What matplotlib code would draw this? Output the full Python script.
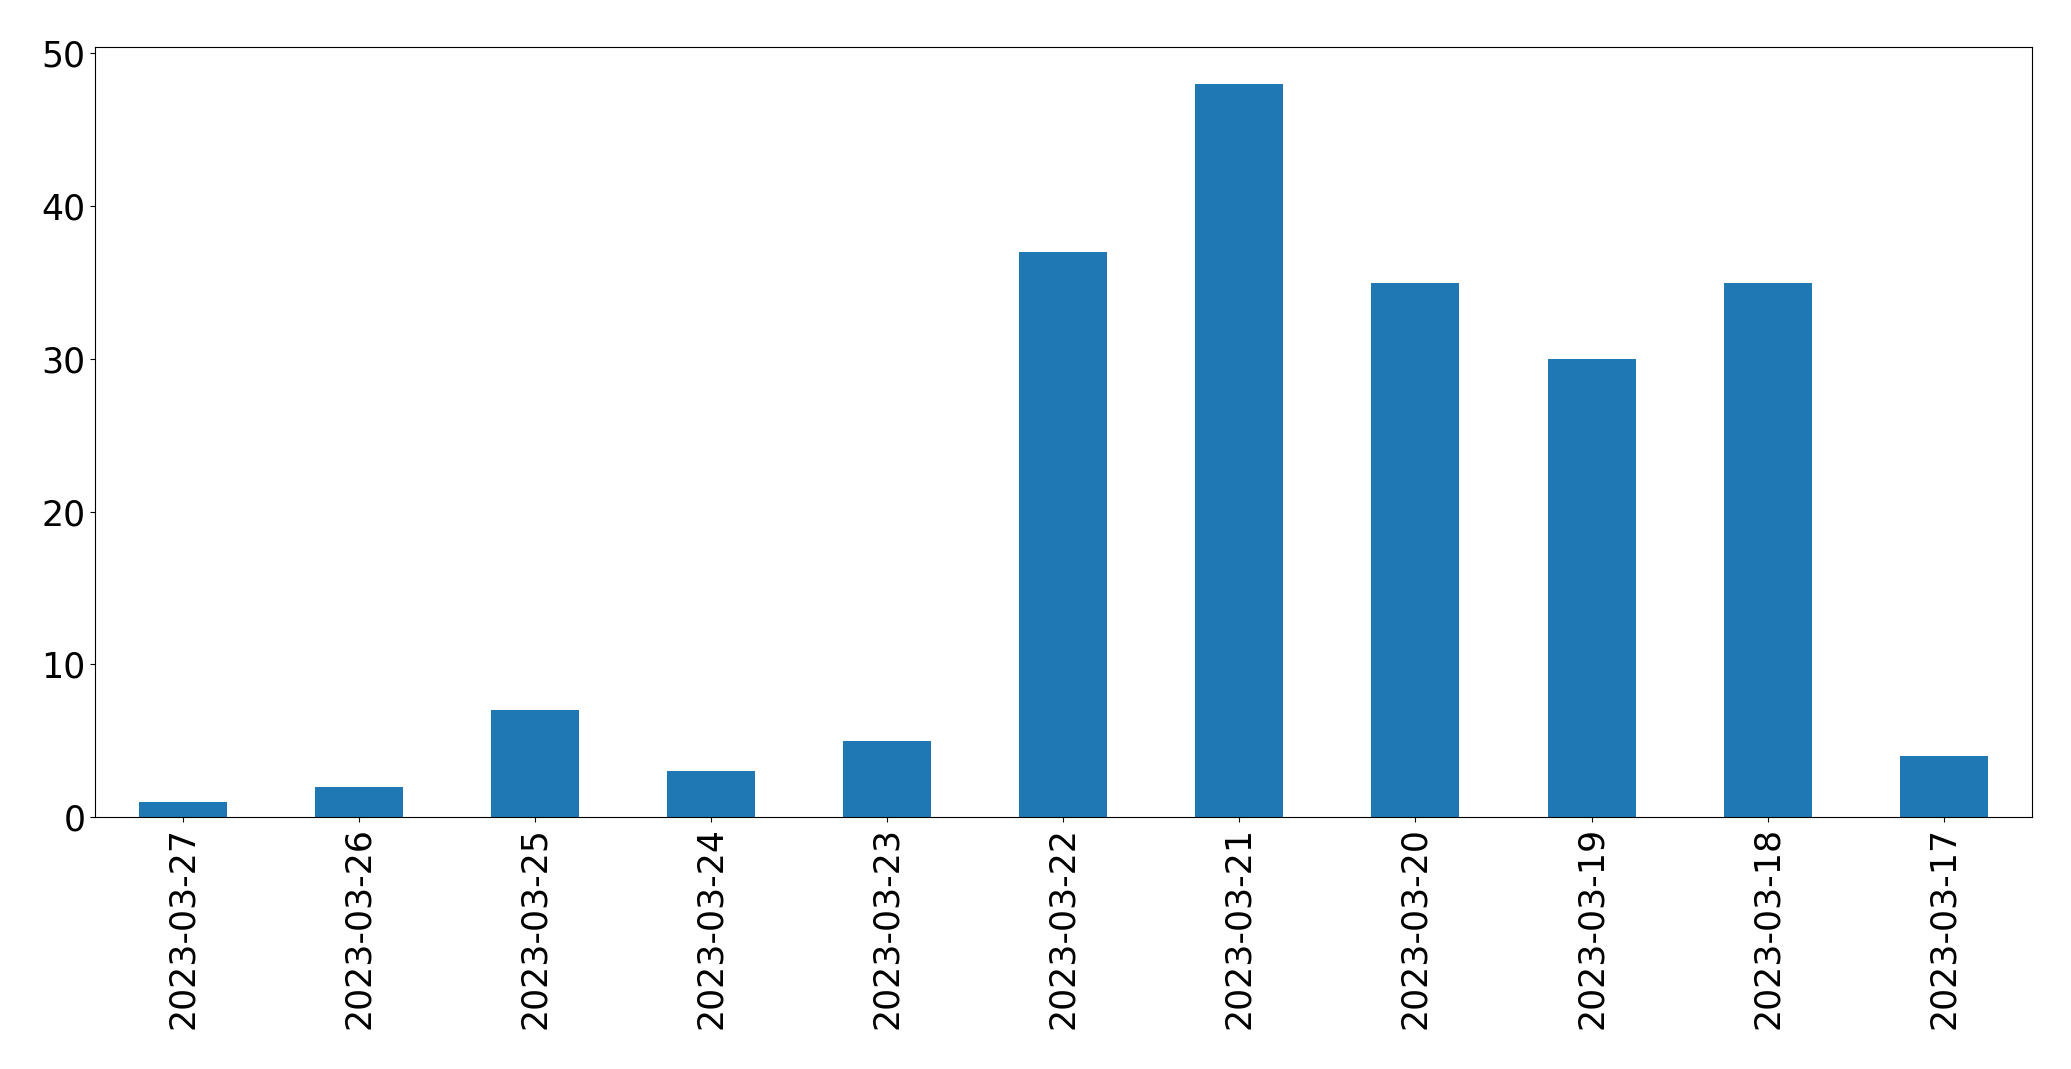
import matplotlib.pyplot as plt

dates = ['2023-03-27', '2023-03-26', '2023-03-25', '2023-03-24', '2023-03-23',
         '2023-03-22', '2023-03-21', '2023-03-20', '2023-03-19', '2023-03-18',
         '2023-03-17']
counts = [1, 2, 7, 3, 5, 37, 48, 35, 30, 35, 4]

fig, ax = plt.subplots(figsize=(20.71, 10.69), dpi=100)
x = list(range(len(dates)))
ax.bar(x, counts, width=0.5, color='#1f77b4')
ax.set_xlim(-0.25 - 0.25, len(dates) - 0.5)
ax.set_xticks(x)
ax.set_xticklabels(dates, rotation=90)
ax.tick_params(axis='both', labelsize=25)

plt.subplots_adjust(left=0.0459, right=0.981, top=0.9558, bottom=0.2355)
plt.savefig('out.png')
